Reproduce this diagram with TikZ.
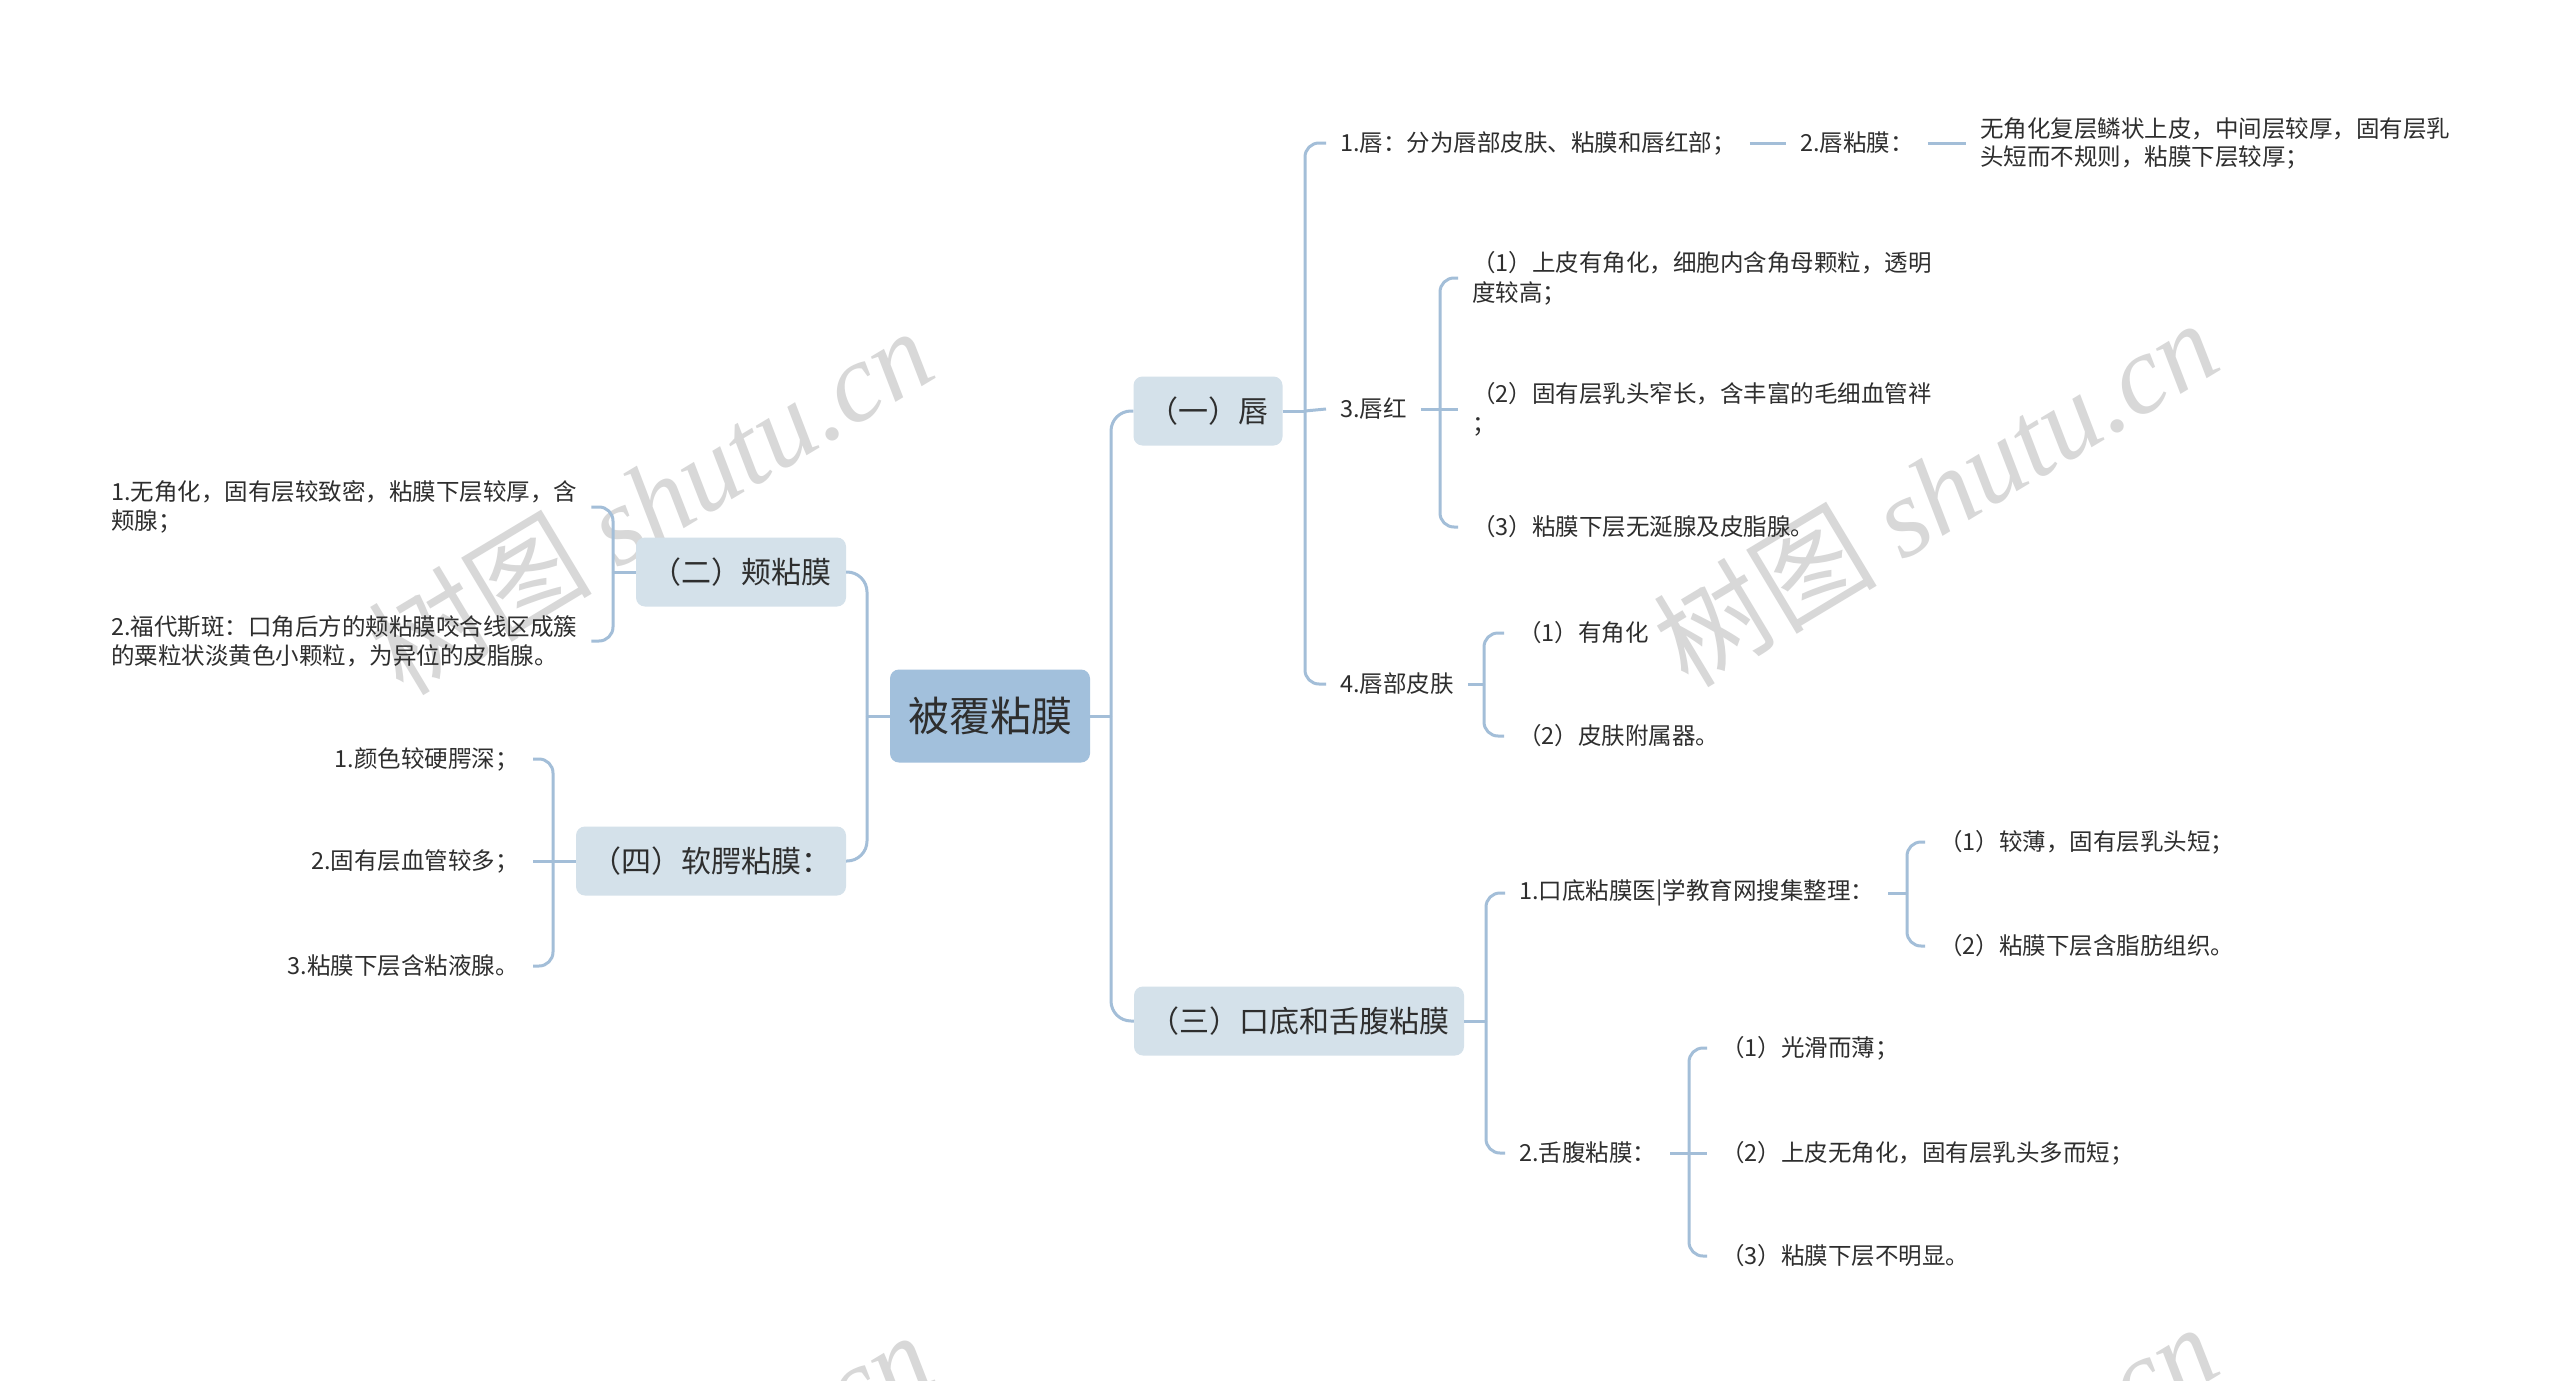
\documentclass[tikz,border=0pt]{standalone}
\usepackage{fontspec}
\setmainfont{Noto Sans CJK SC}
\newfontfamily\wmserif{Liberation Serif}
\usetikzlibrary{calc}
\definecolor{lineC}{HTML}{A3BED8}
\definecolor{rootC}{HTML}{A2C0DC}
\definecolor{lvC}{HTML}{D4E1EA}
\definecolor{txtC}{HTML}{2E2E2E}
\definecolor{wmC}{HTML}{D8D8D8}
\begin{document}
\begin{tikzpicture}[x=1pt,y=-1pt,
  conn/.style={draw=lineC,line width=3pt,rounded corners=14pt},
  connR/.style={draw=lineC,line width=3pt,rounded corners=20pt},
  rootbox/.style={fill=rootC,rounded corners=9pt,minimum width=200pt,minimum height=93pt,inner sep=0pt,font=\fontsize{41}{48}\selectfont,text=txtC},
  lvbox/.style={fill=lvC,rounded corners=9pt,minimum height=69pt,inner sep=0pt,font=\fontsize{30}{36}\selectfont,text=txtC},
  leaf/.style={font=\fontsize{23.5}{30}\selectfont,text=txtC,inner xsep=14pt,inner ysep=2pt,align=left},
  wm/.style={rotate=31,text=wmC,font=\fontsize{112}{120}\selectfont},
]
\useasboundingbox (0,0) rectangle (2560,1381);
\fill[white] (0,0) rectangle (2560,1381);
% watermarks
\begin{scope}
\clip (0,0) rectangle (2560,1381);
\node[wm] (wm1) at (650,500) {树图 {\wmserif\itshape shutu.cn}};
\node[wm] (wm2) at (1935,492) {树图 {\wmserif\itshape shutu.cn}};
\node[wm] (wm3) at (650,1504) {树图 {\wmserif\itshape shutu.cn}};
\node[wm] (wm4) at (1935,1496) {树图 {\wmserif\itshape shutu.cn}};
\end{scope}
% main nodes
\node[rootbox] (root) at (990,716) {被覆粘膜};
\node[lvbox,minimum width=149pt] (n1) at (1208,411) {（一）唇};
\node[lvbox,minimum width=330pt] (n3) at (1299,1021) {（三）口底和舌腹粘膜};
\node[lvbox,minimum width=210pt] (n2) at (741,572) {（二）颊粘膜};
\node[lvbox,minimum width=270pt] (n4) at (711,861) {（四）软腭粘膜：};
% right leaves
\node[leaf,anchor=west] (a1) at (1326,143) {1.唇：分为唇部皮肤、粘膜和唇红部；};
\node[leaf,anchor=west] (a1b) at (1786,143) {2.唇粘膜：};
\node[leaf,anchor=west,font=\fontsize{23.5}{28}\selectfont] (a1c) at (1966,143) {无角化复层鳞状上皮，中间层较厚，固有层乳\\头短而不规则，粘膜下层较厚；};
\node[leaf,anchor=west] (a3) at (1326,409) {3.唇红};
\node[leaf,anchor=west] (a3a) at (1458,278) {（1）上皮有角化，细胞内含角母颗粒，透明\\度较高；};
\node[leaf,anchor=west] (a3b) at (1458,409) {（2）固有层乳头窄长，含丰富的毛细血管袢\\；};
\node[leaf,anchor=west] (a3c) at (1458,527) {（3）粘膜下层无涎腺及皮脂腺。};
\node[leaf,anchor=west] (a4) at (1326,684) {4.唇部皮肤};
\node[leaf,anchor=west] (a4a) at (1504,633) {（1）有角化};
\node[leaf,anchor=west] (a4b) at (1504,736) {（2）皮肤附属器。};
\node[leaf,anchor=west] (b1) at (1505,893) {1.口底粘膜医|学教育网搜集整理：};
\node[leaf,anchor=west] (b2) at (1505,1153) {2.舌腹粘膜：};
\node[leaf,anchor=west] (b1a) at (1925,842) {（1）较薄，固有层乳头短；};
\node[leaf,anchor=west] (b1b) at (1925,946) {（2）粘膜下层含脂肪组织。};
\node[leaf,anchor=west] (b2a) at (1707,1048) {（1）光滑而薄；};
\node[leaf,anchor=west] (b2b) at (1707,1153) {（2）上皮无角化，固有层乳头多而短；};
\node[leaf,anchor=west] (b2c) at (1707,1256) {（3）粘膜下层不明显。};
% left leaves
\node[leaf,anchor=west,text width=466pt,font=\fontsize{23.5}{29}\selectfont] (c1) at (97,507) {1.无角化，固有层较致密，粘膜下层较厚，含\\颊腺；};
\node[leaf,anchor=west,text width=466pt,font=\fontsize{23.5}{29}\selectfont] (c2) at (97,641) {2.福代斯斑：口角后方的颊粘膜咬合线区成簇\\的粟粒状淡黄色小颗粒，为异位的皮脂腺。};
\node[leaf,anchor=east] (d1) at (533,759) {1.颜色较硬腭深；};
\node[leaf,anchor=east] (d2) at (533,861) {2.固有层血管较多；};
\node[leaf,anchor=east] (d3) at (533,966) {3.粘膜下层含粘液腺。};
% trunk coordinates
\coordinate (tR) at (1111,716);
\coordinate (tL) at (867,716);
\coordinate (t1) at (1305,411);
\coordinate (t3) at (1440,409);
\coordinate (t4) at (1484,684);
\coordinate (tB) at (1486,1021);
\coordinate (tB1) at (1907,893);
\coordinate (tB2) at (1689,1153);
\coordinate (t2) at (613,572);
\coordinate (tD) at (553,861);
% connectors
\draw[connR] (root.east) -- (tR);
\draw[connR] (tR) |- (n1.west);
\draw[connR] (tR) |- (n3.west);
\draw[connR] (root.west) -- (tL);
\draw[connR] (tL) |- (n2.east);
\draw[connR] (tL) |- (n4.east);
\draw[conn] (n1.east) -- (t1);
\draw[conn] (t1) |- (a1.west);
\draw[conn] (t1) -- (a3.west);
\draw[conn] (t1) |- (a4.west);
\draw[conn] (a1.east) -- (a1b.west);
\draw[conn] (a1b.east) -- (a1c.west);
\draw[conn] (a3.east) -- (t3);
\draw[conn] (t3) |- (a3a.west);
\draw[conn] (t3) -- (a3b.west);
\draw[conn] (t3) |- (a3c.west);
\draw[conn] (a4.east) -- (t4);
\draw[conn] (t4) |- (a4a.west);
\draw[conn] (t4) |- (a4b.west);
\draw[conn] (n3.east) -- (tB);
\draw[conn] (tB) |- (b1.west);
\draw[conn] (tB) |- (b2.west);
\draw[conn] (b1.east) -- (tB1);
\draw[conn] (tB1) |- (b1a.west);
\draw[conn] (tB1) |- (b1b.west);
\draw[conn] (b2.east) -- (tB2);
\draw[conn] (tB2) |- (b2a.west);
\draw[conn] (tB2) -- (b2b.west);
\draw[conn] (tB2) |- (b2c.west);
\draw[conn] (n2.west) -- (t2);
\draw[conn] (t2) |- (c1.east);
\draw[conn] (t2) |- (c2.east);
\draw[conn] (n4.west) -- (tD);
\draw[conn] (tD) |- (d1.east);
\draw[conn] (tD) -- (d2.east);
\draw[conn] (tD) |- (d3.east);
\end{tikzpicture}
\end{document}
